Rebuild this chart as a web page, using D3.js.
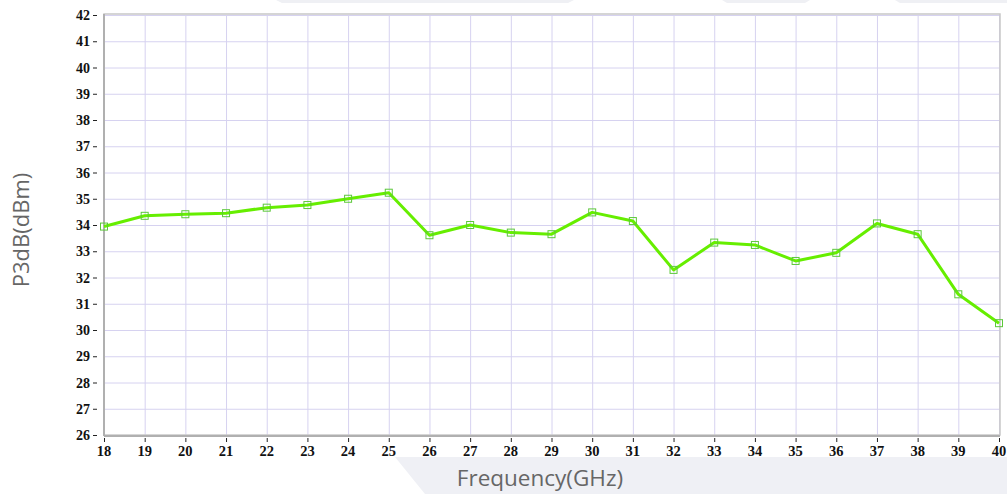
<!DOCTYPE html>
<html><head><meta charset="utf-8">
<script src="https://cdn.jsdelivr.net/npm/d3@7"></script>
<style>html,body{margin:0;padding:0;background:#fff;}svg{display:block;}</style>
</head><body>
<svg id="chart" width="1007" height="494"></svg>
<script>
const frequencies = [18,19,20,21,22,23,24,25,26,27,28,29,30,31,32,33,34,35,36,37,38,39,40];
const p3dbValues = [33.94,34.35,34.41,34.45,34.66,34.76,35.0,35.23,33.61,34.0,33.71,33.65,34.48,34.15,32.29,33.33,33.24,32.63,32.94,34.06,33.65,31.36,30.26];
const yTicks = [26,27,28,29,30,31,32,33,34,35,36,37,38,39,40,41,42];
const xTicks = frequencies;
const xTitle = "Frequency(GHz)";
const yTitle = "P3dB(dBm)";

const svg = d3.select("#chart");
const L = 104, R = 999, T = 15, B = 435;
const x = d3.scaleLinear().domain([18,40]).range([L,R]);
const y = d3.scaleLinear().domain([26,42]).range([B,T]);

// background decorative shapes
const bg = svg.append("g");
bg.append("path").attr("d","M395,457 L1007,457 L1007,494 L425,494 Z").attr("fill","#eff0f5");
bg.append("path").attr("d","M276,0 L574,0 L568,3 L282,3 Z").attr("fill","#eff0f4");
bg.append("path").attr("d","M722,0 L810,0 L805,3 L727,3 Z").attr("fill","#eff0f4");
bg.append("path").attr("d","M895,0 L1007,0 L1007,3 L900,3 Z").attr("fill","#eff0f4");

// grid
const grid = svg.append("g");
grid.selectAll("line.h").data(yTicks).join("line")
  .attr("x1",L).attr("x2",R).attr("y1",d=>y(d)+0.5).attr("y2",d=>y(d)+0.5)
  .attr("stroke","#d6d2f0").attr("stroke-width",1);
grid.selectAll("line.v").data(xTicks).join("line")
  .attr("y1",T).attr("y2",B).attr("x1",d=>x(d)+0.5).attr("x2",d=>x(d)+0.5)
  .attr("stroke","#d6d2f0").attr("stroke-width",1);

// frame
svg.append("rect").attr("x",L).attr("y",T-1).attr("width",R-L+1).attr("height",B-T+1)
  .attr("fill","none").attr("stroke","#c8c8c8").attr("stroke-width",1.5);
svg.append("line").attr("x1",L).attr("x2",L).attr("y1",T-1).attr("y2",B+1).attr("stroke","#b0b0b0").attr("stroke-width",2);
svg.append("line").attr("x1",L).attr("x2",R+1).attr("y1",B+1).attr("y2",B+1).attr("stroke","#b0b0b0").attr("stroke-width",2);

// y axis ticks and labels
const ya = svg.append("g");
ya.selectAll("line").data(yTicks).join("line")
  .attr("x1",93).attr("x2",97).attr("y1",d=>y(d)+0.5).attr("y2",d=>y(d)+0.5)
  .attr("stroke","#222").attr("stroke-width",1);
ya.selectAll("text").data(yTicks).join("text")
  .attr("x",90).attr("y",d=>y(d)+5).attr("text-anchor","end")
  .attr("font-family","'Liberation Serif','DejaVu Serif',serif").attr("font-weight","bold")
  .attr("font-size",14).attr("fill","#111").text(d=>d);

// x axis ticks and labels
const xa = svg.append("g");
xa.selectAll("line").data(xTicks).join("line")
  .attr("x1",d=>x(d)+0.5).attr("x2",d=>x(d)+0.5).attr("y1",438).attr("y2",442)
  .attr("stroke","#222").attr("stroke-width",1);
xa.selectAll("text").data(xTicks).join("text")
  .attr("x",d=>x(d)).attr("y",456).attr("text-anchor","middle")
  .attr("font-family","'Liberation Serif','DejaVu Serif',serif").attr("font-weight","bold")
  .attr("font-size",14.5).attr("fill","#111").text(d=>d);

// line
const line = d3.line().x((d,i)=>x(frequencies[i])).y(d=>y(d));
svg.append("path").datum(p3dbValues).attr("d",line)
  .attr("fill","none").attr("stroke","#66ee00").attr("stroke-width",3).attr("stroke-linejoin","round");
svg.append("g").selectAll("rect").data(p3dbValues).join("rect")
  .attr("x",(d,i)=>x(frequencies[i])-3.5).attr("y",d=>y(d)-3.5).attr("width",7).attr("height",7)
  .attr("fill","none").attr("stroke","#5cc83a").attr("stroke-width",1);

// titles
svg.append("text").attr("x",540).attr("y",486).attr("text-anchor","middle")
  .attr("font-family","'Open Sans',sans-serif").attr("font-size",22.5).attr("fill","#666").text(xTitle);
svg.append("text").attr("transform","translate(29,230) rotate(-90)").attr("text-anchor","middle")
  .attr("font-family","'Open Sans',sans-serif").attr("font-size",22).attr("fill","#666").text(yTitle);
</script>
</body></html>
